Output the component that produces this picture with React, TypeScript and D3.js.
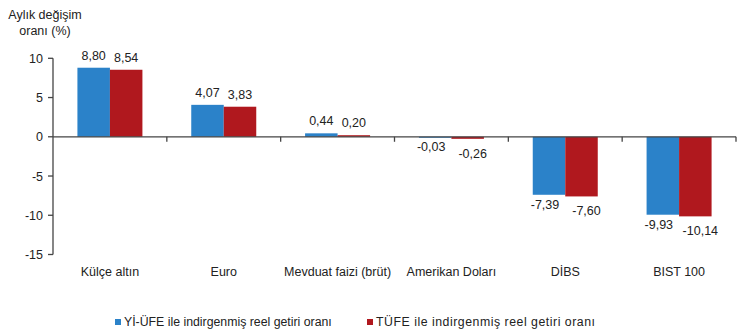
import React from "react";
import * as d3 from "d3";

const categories = ["Külçe altın", "Euro", "Mevduat faizi (brüt)", "Amerikan Doları", "DİBS", "BIST 100"];
const seriesNames = ["Yİ-ÜFE ile indirgenmiş reel getiri oranı", "TÜFE ile indirgenmiş reel getiri oranı"];
const yiUfe = [8.80, 4.07, 0.44, -0.03, -7.39, -9.93];
const tufe = [8.54, 3.83, 0.20, -0.26, -7.60, -10.14];
const yTicks = [10, 5, 0, -5, -10, -15];
const colors = ["#2B82C9", "#B0181E"];

const W = 750, H = 334;
const fmt = (v: number) => v.toFixed(2).replace(".", ",");

export default function App() {
  const x = d3.scaleBand<string>().domain(categories).range([53, 736]);
  const y = d3.scaleLinear().domain([-15, 10]).range([254.5, 58.3]);
  const series = [yiUfe, tufe];
  const barW = 32.5;
  const font = "'Liberation Sans', Arial, sans-serif";
  const axisColor = "#444";
  return (
    <svg width={W} height={H} style={{ position: "absolute", left: 0, top: 0, background: "#fff" }} fontFamily={font}>
      <text x={45} y={19} fontSize={12.5} textAnchor="middle" fill="#222">Aylık değişim</text>
      <text x={45} y={35} fontSize={12.5} textAnchor="middle" fill="#222">oranı (%)</text>
      {/* bars */}
      {categories.map((c, i) =>
        series.map((s, k) => {
          const v = s[i];
          const cx = (x(c) as number) + x.bandwidth() / 2;
          const bx = cx - barW + k * barW;
          const y0 = y(0), y1 = y(v);
          const top = Math.min(y0, y1);
          const h = Math.abs(y1 - y0);
          const ly = v >= 0 ? y1 - 8 : y1 + (k === 0 ? 14 : 19);
          const dx = v >= 0 ? 0 : k === 0 ? -4 : 5;
          return (
            <g key={c + k}>
              <rect x={bx} y={top} width={barW} height={Math.max(h, 1)} fill={colors[k]} />
              <text x={bx + barW / 2 + dx} y={ly} fontSize={12.5} textAnchor="middle" fill="#222">{fmt(v)}</text>
            </g>
          );
        })
      )}
      {/* y axis */}
      <line x1={53} x2={53} y1={y(10)} y2={y(-15)} stroke={axisColor} strokeWidth={1.3} />
      {yTicks.map((t) => (
        <g key={t}>
          <line x1={48} x2={53} y1={y(t)} y2={y(t)} stroke={axisColor} strokeWidth={1.3} />
          <text x={43} y={y(t) + 4.5} fontSize={12.5} textAnchor="end" fill="#222">{t}</text>
        </g>
      ))}
      {/* x axis at 0 */}
      <line x1={53} x2={736} y1={y(0)} y2={y(0)} stroke={axisColor} strokeWidth={1.3} />
      {categories.map((c, i) => (
        <line key={"t" + i} x1={(x(c) as number) + x.bandwidth()} x2={(x(c) as number) + x.bandwidth()} y1={y(0)} y2={y(0) + 5} stroke={axisColor} strokeWidth={1.3} />
      ))}
      {categories.map((c) => (
        <text key={"l" + c} x={(x(c) as number) + x.bandwidth() / 2} y={276} fontSize={12.5} textAnchor="middle" fill="#222">{c}</text>
      ))}
      {/* legend */}
      <rect x={115} y={319} width={6} height={6} fill={colors[0]} />
      <text x={124} y={326} fontSize={12.3} fill="#222">{seriesNames[0]}</text>
      <rect x={367} y={319} width={6} height={6} fill={colors[1]} />
      <text x={376} y={326} fontSize={12.3} fill="#222" textLength={219}>{seriesNames[1]}</text>
    </svg>
  );
}
